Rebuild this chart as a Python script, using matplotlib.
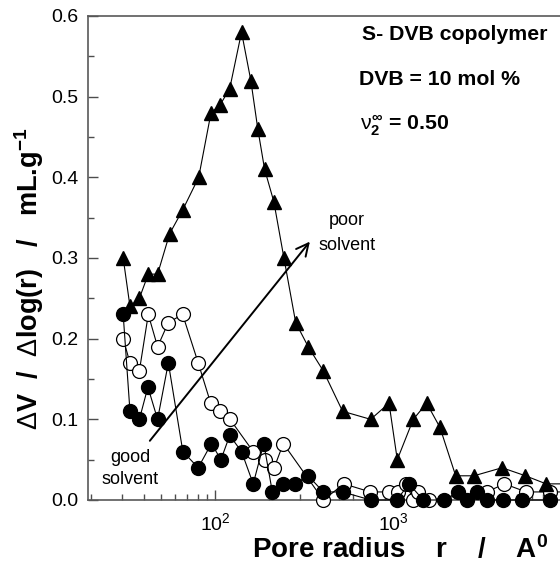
import numpy as np
import matplotlib
matplotlib.use('Agg')
import matplotlib.pyplot as plt
from matplotlib.ticker import FixedLocator, LogLocator, MultipleLocator, NullFormatter

plt.rcParams['font.family'] = ['Liberation Sans', 'DejaVu Sans']
plt.rcParams['mathtext.fontset'] = 'custom'
plt.rcParams['mathtext.rm'] = 'Liberation Sans'
plt.rcParams['mathtext.it'] = 'Liberation Sans'
plt.rcParams['mathtext.bf'] = 'Liberation Sans:bold'

# Pore size distributions, S-DVB copolymer (DVB = 10 mol %)
# filled triangles: poor solvent
r_tri = [30.5, 33.3, 37.6, 42.2, 47.6, 55.6, 66, 81, 95, 107, 121, 141, 159, 174,
         190, 214, 244, 284, 334, 406, 521, 749, 950, 1057, 1300, 1546, 1836,
         2250, 2850, 4100, 5550, 7250, 9800]
v_tri = [0.30, 0.24, 0.25, 0.28, 0.28, 0.33, 0.36, 0.40, 0.48, 0.49, 0.51, 0.58, 0.52, 0.46,
         0.41, 0.37, 0.30, 0.22, 0.19, 0.16, 0.11, 0.10, 0.12, 0.05, 0.10, 0.12, 0.09,
         0.03, 0.03, 0.04, 0.03, 0.02, 0.02]

# open circles: intermediate solvent
r_open = [30.5, 33.3, 37.6, 42.2, 47.6, 54.7, 65.8, 80.5, 94.6, 106.7, 121.5, 164, 191,
          215, 242, 406, 530, 745, 953, 1068, 1190, 1300, 1387, 1600, 3360, 4230,
          5600, 7650, 9800]
v_open = [0.20, 0.17, 0.16, 0.23, 0.19, 0.22, 0.23, 0.17, 0.12, 0.11, 0.10, 0.06, 0.05,
          0.04, 0.07, 0.00, 0.02, 0.01, 0.01, 0.01, 0.02, 0.00, 0.01, 0.00, 0.01, 0.02,
          0.01, 0.01, 0.01]

# filled circles: good solvent
r_fill = [30.5, 33.3, 37.6, 42, 47.6, 54.7, 66, 80.5, 95.5, 108, 121, 141, 164, 188,
          210, 240, 281, 334, 406, 521, 749, 1050, 1230, 1480, 1930, 2330, 2600,
          2950, 3380, 4170, 5300, 7600]
v_fill = [0.23, 0.11, 0.10, 0.14, 0.10, 0.17, 0.06, 0.04, 0.07, 0.05, 0.08, 0.06, 0.02, 0.07,
          0.01, 0.02, 0.02, 0.03, 0.01, 0.01, 0.00, 0.00, 0.02, 0.00, 0.00, 0.01, 0.00,
          0.01, 0.00, 0.00, 0.00, 0.00]

W, H = 560, 572
fig = plt.figure(figsize=(W / 100, H / 100), dpi=100)
# axes run past the right edge of the canvas
ax = fig.add_axes([88 / W, (H - 500) / H, 483 / W, 484 / H])

ax.plot(r_open, v_open, '-o', color='black', lw=0.8, ms=10, mfc='white',
        mec='black', mew=0.9, clip_on=False, zorder=3)
ax.plot(r_fill, v_fill, '-o', color='black', lw=0.8, ms=10, mfc='black',
        mec='black', clip_on=False, zorder=4)
ax.plot(r_tri, v_tri, '-^', color='black', lw=0.8, ms=10.5, mfc='black',
        mec='black', clip_on=False, zorder=5)

ax.set_xscale('log')
ax.set_xlim(19.35, 1e4)
ax.set_ylim(0, 0.6)
ax.xaxis.set_major_locator(FixedLocator([100, 1000]))
ax.xaxis.set_minor_locator(LogLocator(base=10, subs=np.arange(2, 10)))
ax.xaxis.set_minor_formatter(NullFormatter())
ax.yaxis.set_major_locator(MultipleLocator(0.1))
ax.yaxis.set_minor_locator(MultipleLocator(0.05))
ax.yaxis.set_major_formatter(plt.FuncFormatter(lambda v, p: f'{v:.1f}'))

ax.tick_params(which='both', direction='in', labelsize=14, color='0.3')
ax.tick_params(which='major', length=7, width=1)
ax.tick_params(which='minor', length=4, width=1)
ax.tick_params(axis='y', pad=7)
ax.tick_params(axis='x', pad=9)
ax.tick_params(right=False, top=False)
for s in ax.spines.values():
    s.set_color('0.35')
    s.set_linewidth(1.2)

# axis titles
fig.text(29 / W, 1 - 279 / H,
         r'$\Delta$V  /  $\Delta$log(r)   /   mL.g$^{\mathbf{-1}}$',
         rotation=90, ha='center', va='center', fontsize=19.5, fontweight='bold')
fig.text(400 / W, 1 - 550 / H, r'Pore radius    r    /    A$^{\mathbf{0}}$',
         ha='center', va='center', fontsize=20, fontweight='bold')

# sample description
ax.text(0.567, 0.950, 'S- DVB copolymer', transform=ax.transAxes,
        fontsize=15.3, fontweight='bold', va='baseline')
ax.text(0.561, 0.857, 'DVB = 10 mol %', transform=ax.transAxes,
        fontsize=15.3, fontweight='bold', va='baseline')
ax.text(0.563, 0.764, r'$\nu_{\mathbf{2}}^{\mathbf{\infty}}$ = 0.50', transform=ax.transAxes,
        fontsize=15.3, fontweight='bold', va='baseline')

# solvent quality arrow
ax.annotate('', xy=(349, 0.323), xytext=(42.1, 0.0707),
            arrowprops=dict(arrowstyle='->', lw=1.4, color='black', mutation_scale=22))
ax.text(33.3, 0.0533, 'good', ha='center', va='center', fontsize=13)
ax.text(33.3, 0.026, 'solvent', ha='center', va='center', fontsize=13)
ax.text(551, 0.347, 'poor', ha='center', va='center', fontsize=13)
ax.text(551, 0.315, 'solvent', ha='center', va='center', fontsize=13)

fig.savefig('out.png', dpi=100)
